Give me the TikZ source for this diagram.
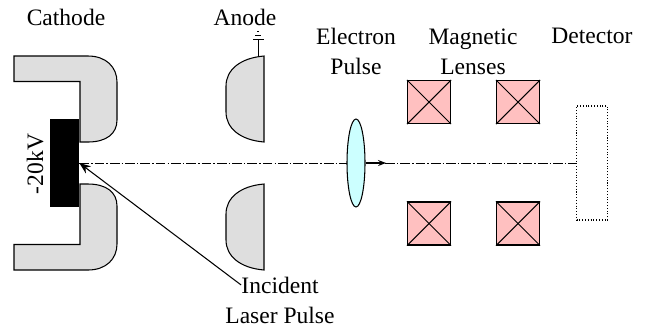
\documentclass[tikz,border=0pt]{standalone}
\usepackage{fontspec}
\setmainfont{Liberation Serif}
\usetikzlibrary{shapes.geometric,arrows.meta}
\definecolor{electrodegray}{HTML}{DEDEDE}
\definecolor{lensred}{HTML}{FFC0C0}
\definecolor{pulsecyan}{HTML}{CCFFFF}
\tikzset{
  txt/.style={anchor=base,inner sep=0pt,font=\fontsize{13.4}{16}\selectfont},
  electrode/.style={draw,fill=electrodegray,line width=0.6pt},
  lens/.style={draw,fill=lensred,line width=0.7pt,minimum size=0.86cm,inner sep=0pt},
  beam/.style={line width=0.5pt,dash pattern=on 5.5pt off 1.2pt on 0.8pt off 1.2pt}
}
\begin{document}
\begin{tikzpicture}[x=0.02cm,y=-0.02cm]
          \useasboundingbox (0,0) rectangle (652,326);
          % cathode
          \draw[electrode] (14,56) -- (88,56) .. controls (106,56) and (117,67) .. (117,82) -- (117,120) .. controls (117,134) and (106,142) .. (88,142) -- (80,142) -- (80,81.5) -- (14,81.5) -- cycle;
          \draw[electrode] (14,270) -- (88,270) .. controls (106,270) and (117,259) .. (117,244) -- (117,206) .. controls (117,192) and (106,184) .. (88,184) -- (80,184) -- (80,244.5) -- (14,244.5) -- cycle;
          \node[fill=black,minimum width=0.58cm,minimum height=1.76cm,inner sep=0pt] (Gun) at (64.5,163) {};
          % anode
          \draw[electrode] (264,56) .. controls (240,58) and (226,70) .. (226,86) -- (226,112) .. controls (226,128) and (240,140) .. (264,142) -- cycle;
          \draw[electrode] (264,184) .. controls (240,186) and (226,198) .. (226,214) -- (226,240) .. controls (226,256) and (240,268) .. (264,270) -- cycle;
          \draw[line width=0.5pt] (258,56) -- (258,40);
          \draw[line width=0.5pt] (253,39.5) -- (264,39.5);
          \draw[line width=0.5pt] (255,35) -- (261,35);
          \draw[line width=0.5pt] (257,31) -- (259,31);
          % beam axis
          \node[draw,densely dotted,line width=0.6pt,minimum width=0.62cm,minimum height=2.28cm,inner sep=0pt] (Det) at (592,163) {};
          \draw[beam] (Gun) -- (Det);
          % electron pulse
          \node[ellipse,draw,fill=pulsecyan,line width=0.6pt,minimum width=0.36cm,minimum height=1.76cm,inner sep=0pt] (Pulse) at (356,163) {};
          \coordinate (Tip) at (386,163);
          \draw[-{Stealth[length=4.5pt,width=3.4pt]},line width=0.7pt] (Pulse.east) -- (Tip);
          % lenses
          \foreach \x/\y/\n in {429/102/A,518/102/B,429/223.5/C,518/223.5/D}{
            \node[lens] (\n) at (\x,\y) {};
            \draw[line width=0.6pt] (\n.north west) -- (\n.south east);
            \draw[line width=0.6pt] (\n.north east) -- (\n.south west);
          }
          % labels
          \node[txt] (Cat) at (66,25) {Cathode};
          \node[txt] (An) at (245,25) {Anode};
          \node[txt] (El) at (356,44) {Electron};
          \node[txt] (Pu) at (356,74) {Pulse};
          \node[txt] (Ma) at (473,44) {Magnetic};
          \node[txt] (Le) at (473,74) {Lenses};
          \node[txt] (De) at (592,43) {Detector};
          \node[txt,rotate=90] (kV) at (43,164) {-20kV};
          \node[txt] (In) at (280,293) {Incident};
          \node[txt] (La) at (280,323) {Laser Pulse};
          \draw[-{Stealth[length=6.5pt,width=5pt]},line width=0.6pt] (In.west) -- (Gun.east);
        \end{tikzpicture}
\end{document}
